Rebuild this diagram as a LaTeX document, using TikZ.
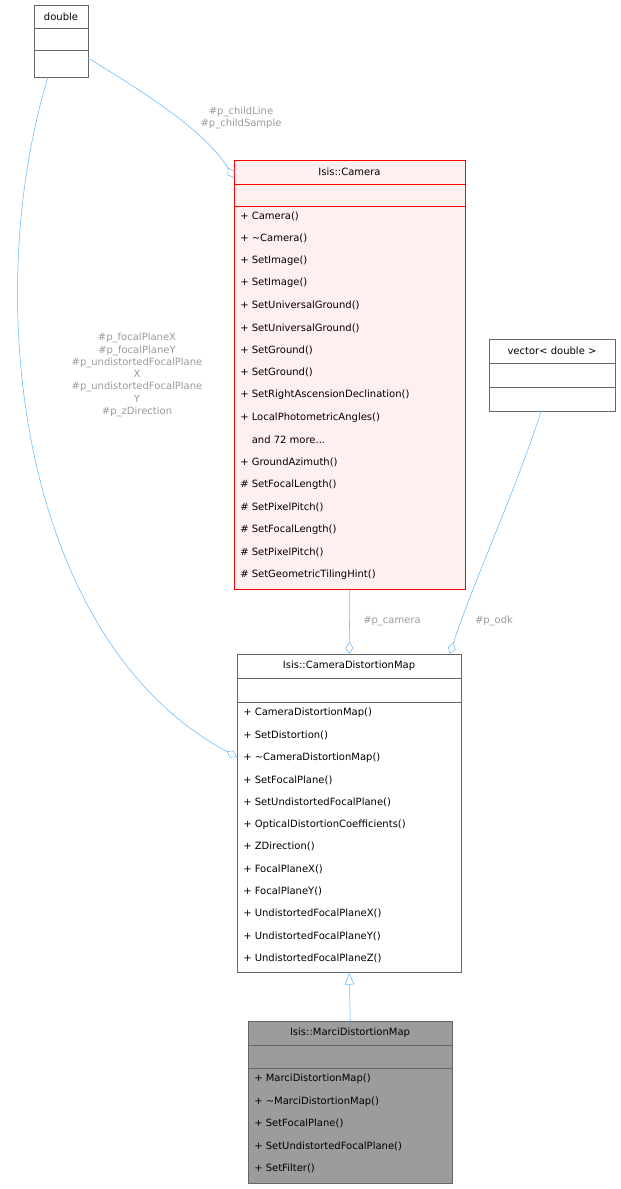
\documentclass[tikz,border=0pt]{standalone}
\usepackage{fontspec}
\setmainfont{DejaVu Sans}
\usetikzlibrary{arrows.meta}
\definecolor{edgeblue}{HTML}{63B8FF}
\definecolor{labgray}{HTML}{9A9A9A}
\definecolor{boxgray}{HTML}{666666}
\definecolor{campink}{HTML}{FFF0F0}
\tikzset{
	box/.style={draw=boxgray, anchor=north west, inner sep=0pt},
	memb/.style={anchor=west, font=\fontsize{7.5}{9}\selectfont, inner sep=0pt},
	ttl/.style={font=\fontsize{7.5}{9}\selectfont, inner sep=0pt},
	elab/.style={font=\fontsize{7.5}{9.2}\selectfont, text=labgray, align=center, inner sep=0pt},
	agg/.style={draw=edgeblue, {Diamond[open,length=9pt,width=6pt]}-},
}
\newcommand{\moredots}{\phantom{+ }and 72 more.{}.{}.}
\begin{document}
\begin{tikzpicture}[x=0.75pt,y=-0.75pt]
	\useasboundingbox (0,0) rectangle (621,1189);
	% double
	\node [box, minimum width=54*0.75pt, minimum height=72*0.75pt] (dbl) at (34,5) {};
	\draw [boxgray] (34,28) -- (88,28) (34,50) -- (88,50);
	\node [ttl] at (61,16.5) {double};
	% camera
	\node [box, draw=red, fill=campink, minimum width=231*0.75pt, minimum height=429*0.75pt] (cam) at (234,160) {};
	\draw [red] (234,184) -- (465,184) (234,206) -- (465,206);
	\node [ttl] at (349.5,172) {Isis::Camera};
	\foreach \t [count=\i from 0] in {+ Camera(), + \textasciitilde Camera(), + SetImage(), + SetImage(),
		+ SetUniversalGround(), + SetUniversalGround(), + SetGround(), + SetGround(),
		+ SetRightAscensionDeclination(), + LocalPhotometricAngles(), \moredots,
		+ GroundAzimuth(), \# SetFocalLength(), \# SetPixelPitch(), \# SetFocalLength(),
		\# SetPixelPitch(), \# SetGeometricTilingHint()}
		\node [memb] at (240,216+\i*22.4) {\t};
	% vector
	\node [box, minimum width=126*0.75pt, minimum height=72*0.75pt] (vec) at (489,339) {};
	\draw [boxgray] (489,363) -- (615,363) (489,387) -- (615,387);
	\node [ttl] at (552,351) {vector< double >};
	% camera distortion map
	\node [box, minimum width=224*0.75pt, minimum height=318*0.75pt] (cdm) at (237,654) {};
	\draw [boxgray] (237,678) -- (461,678) (237,702) -- (461,702);
	\node [ttl] at (349,666) {Isis::CameraDistortionMap};
	\foreach \t [count=\i from 0] in {CameraDistortionMap(), SetDistortion(), \textasciitilde CameraDistortionMap(),
		SetFocalPlane(), SetUndistortedFocalPlane(), OpticalDistortionCoefficients(), ZDirection(),
		FocalPlaneX(), FocalPlaneY(), UndistortedFocalPlaneX(), UndistortedFocalPlaneY(),
		UndistortedFocalPlaneZ()}
		\node [memb] at (243,713+\i*22.3) {+ \t};
	% marci distortion map
	\node [box, fill=boxgray!65, minimum width=204*0.75pt, minimum height=162*0.75pt] (marci) at (248,1021) {};
	\draw [boxgray] (248,1045) -- (452,1045) (248,1068) -- (452,1068);
	\node [ttl] at (350,1033) {Isis::MarciDistortionMap};
	\foreach \t [count=\i from 0] in {MarciDistortionMap(), \textasciitilde MarciDistortionMap(),
		SetFocalPlane(), SetUndistortedFocalPlane(), SetFilter()}
		\node [memb] at (254,1079+\i*22.3) {+ \t};
	% connectors
	\coordinate (dblR) at (88,58);
	\coordinate (dblB) at (48,77);
	\coordinate (camL) at (234,178);
	\coordinate (cdmL) at (237,757);
	\coordinate (vecB) at (541,411);
	\coordinate (cdmR) at (450,654);
	\draw [agg] (camL) .. controls (205,130) and (140,90) .. (dblR);
	\draw [agg] (cdmL) .. controls (20,640) and (-20,300) .. (dblB);
	\draw [agg] (cdm.north) -- (cam.south);
	\draw [agg] (cdmR) .. controls (470,590) and (520,480) .. (vecB);
	\draw [draw=edgeblue, -{Triangle[open,length=9pt,width=7pt]}] (marci.north) -- (cdm.south);
	\node [elab] at (241,118) {\#p\_childLine\\\#p\_childSample};
	\node [elab] at (137,375) {\#p\_focalPlaneX\\\#p\_focalPlaneY\\\#p\_undistortedFocalPlane\\X\\\#p\_undistortedFocalPlane\\Y\\\#p\_zDirection};
	\node [elab] at (392,621) {\#p\_camera};
	\node [elab] at (494,621) {\#p\_odk};
\end{tikzpicture}
\end{document}
